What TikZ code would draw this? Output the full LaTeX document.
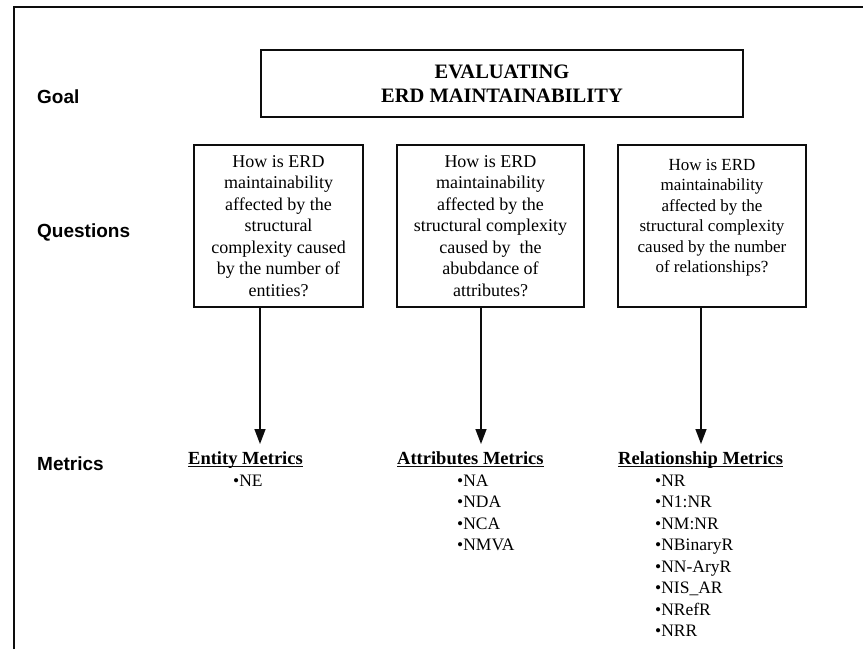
\documentclass[tikz,border=0pt]{standalone}
\usepackage{fontspec}
\setmainfont{Liberation Serif}
\newfontfamily\labelfont{Liberation Sans}
\usetikzlibrary{arrows.meta,calc}
\definecolor{InkClr}{rgb}{0.05,0.05,0.05}

\begin{document}
\begin{tikzpicture}[x=1pt,y=-1pt,
  goalbox/.style={draw=InkClr,line width=1.3pt,minimum width=482pt,minimum height=67pt,
    align=center,font=\bfseries\fontsize{20.5}{24}\selectfont},
  qbox/.style={draw=InkClr,line width=1.4pt,minimum height=162pt,inner sep=0pt,align=center},
  rowlabel/.style={anchor=base west,inner sep=0pt,font=\labelfont\bfseries\fontsize{19}{22}\selectfont},
  mhead/.style={anchor=base west,inner sep=0pt,font=\bfseries\fontsize{18.5}{21.5}\selectfont},
  mlist/.style={anchor=north west,inner sep=0pt,align=left,font=\fontsize{17.5}{21.5}\selectfont},
  link/.style={draw=InkClr,line width=1.4pt,-{Triangle[width=11pt,length=15pt]}}]

\useasboundingbox (0,0) rectangle (863,649);

% frame
\draw[InkClr,line width=1.3pt] (14,649) -- (14,7) -- (863,7);

% row labels
\node[rowlabel] (lgoal) at (37,103) {Goal};
\node[rowlabel] (lquest) at (37,237) {Questions};
\node[rowlabel] (lmetr) at (37,470) {Metrics};

% goal
\node[goalbox] (goal) at (502,83.5) {EVALUATING\\ERD MAINTAINABILITY};

% questions
\node[qbox,minimum width=169pt,font=\fontsize{18}{21.5}\selectfont] (q1) at (278.5,226)
  {How is ERD\\maintainability\\affected by the\\structural\\complexity caused\\by the number of\\entities?};
\node[qbox,minimum width=187pt,font=\fontsize{18}{21.5}\selectfont] (q2) at (490.5,226)
  {How is ERD\\maintainability\\affected by the\\structural complexity\\caused by~ the\\abubdance of\\attributes?};
\node[qbox,minimum width=188pt,font=\fontsize{17}{20.5}\selectfont] (q3) at (712,226)
  {How is ERD\\maintainability\\affected by the\\structural complexity\\caused by the number\\of relationships?\\\mbox{}};

% metrics
\node[mhead] (h1) at (188,464) {Entity Metrics};
\node[mhead] (h2) at (397,464) {Attributes Metrics};
\node[mhead] (h3) at (618,464) {Relationship Metrics};
\foreach \h in {h1,h2,h3}
  \draw[InkClr,line width=1.4pt] ($(\h.base west)+(0,2.6)$) -- ($(\h.base east)+(0,2.6)$);

\node[mlist] (m1) at (233,474.5) {•NE};
\node[mlist] (m2) at (457,474.5) {•NA\\•NDA\\•NCA\\•NMVA};
\node[mlist] (m3) at (655,474.5) {•NR\\•N1:NR\\•NM:NR\\•NBinaryR\\•NN-AryR\\•NIS\_AR\\•NRefR\\•NRR};

% connectors
\coordinate (e1) at (260,444);
\coordinate (e2) at (481,444);
\coordinate (e3) at (701,444);
\draw[link] (q1.south -| e1) -- (e1);
\draw[link] (q2.south -| e2) -- (e2);
\draw[link] (q3.south -| e3) -- (e3);

\end{tikzpicture}
\end{document}
